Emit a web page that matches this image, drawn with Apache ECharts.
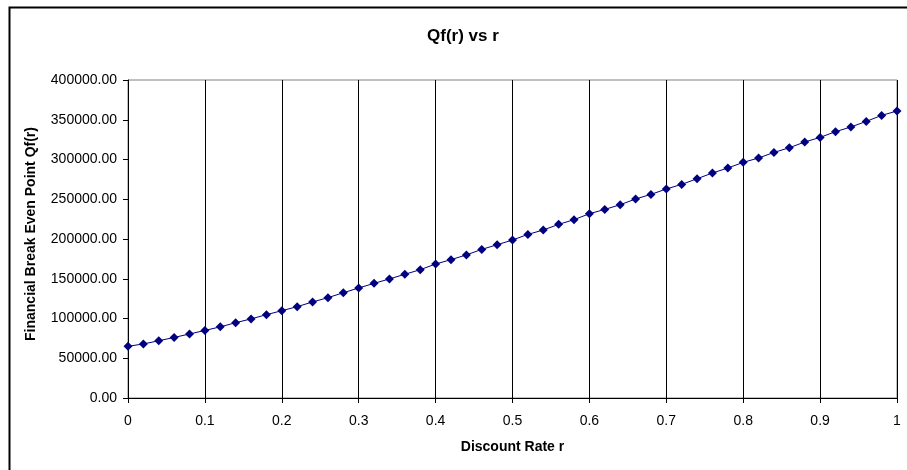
<!DOCTYPE html>
<html>
<head>
<meta charset="utf-8">
<script src="https://cdn.jsdelivr.net/npm/echarts@6/dist/echarts.min.js"></script>
<style>
html,body{margin:0;padding:0;background:#fff;}
#chart{width:907px;height:470px;}
</style>
</head>
<body>
<div id="chart"></div>
<script>
const titleText = 'Qf(r) vs r';
const xAxisName = 'Discount Rate r';
const yAxisName = 'Financial Break Even Point Qf(r)';
const rValues = [0,0.02,0.04,0.06,0.08,0.1,0.12,0.14,0.16,0.18,0.2,0.22,0.24,0.26,0.28,0.3,0.32,0.34,0.36,0.38,0.4,0.42,0.44,0.46,0.48,0.5,0.52,0.54,0.56,0.58,0.6,0.62,0.64,0.66,0.68,0.7,0.72,0.74,0.76,0.78,0.8,0.82,0.84,0.86,0.88,0.9,0.92,0.94,0.96,0.98,1];
const qfValues = [65000,68000,72000,76200,80500,85000,89500,94700,99500,104800,109800,114900,120800,126200,132400,138400,144200,149800,155600,161400,168500,174000,180000,186900,192800,198700,205800,211300,218400,224300,231800,237200,243100,250300,256100,262900,268700,275800,283000,289300,296400,301900,308900,314800,322000,327800,335000,340900,347900,355500,361000];
const xTicks = ['0','0.1','0.2','0.3','0.4','0.5','0.6','0.7','0.8','0.9','1'];

const chart = echarts.init(document.getElementById('chart'), null, {renderer:'canvas'});
const font = 'Arial, "Liberation Sans", sans-serif';
chart.setOption({
  animation:false,
  backgroundColor:'#fff',
  title:{text:titleText,left:422,top:23,itemGap:0,
    textStyle:{fontFamily:font,fontSize:17,fontWeight:'bold',color:'#000'}},
  graphic:[{type:'rect',left:7,top:5,shape:{width:1000,height:1000},
    style:{fill:'none',stroke:'#000',lineWidth:2},silent:true}],
  grid:{left:128,right:10,top:80,bottom:72,show:true,borderColor:'#808080',borderWidth:1,backgroundColor:'transparent'},
  xAxis:{type:'value',min:0,max:1,interval:0.1,
    name:xAxisName,nameLocation:'middle',nameGap:42,
    nameTextStyle:{fontFamily:font,fontSize:14,fontWeight:'bold',color:'#000'},
    axisLine:{lineStyle:{color:'#000',width:1}},
    axisTick:{show:true,length:5,lineStyle:{color:'#000'}},
    axisLabel:{fontFamily:font,fontSize:14,color:'#000',margin:16,
      formatter:function(v){const i=Math.round(v*10);return xTicks[i]!==undefined?xTicks[i]:'';}},
    splitLine:{show:true,lineStyle:{color:'#000',width:1}}},
  yAxis:{type:'value',min:0,max:400000,interval:50000,
    name:yAxisName,nameLocation:'middle',nameGap:90,
    nameTextStyle:{fontFamily:font,fontSize:14,fontWeight:'bold',color:'#000',padding:[0,0,0,10]},
    axisLine:{show:true,lineStyle:{color:'#000',width:1}},
    axisTick:{show:true,length:5,lineStyle:{color:'#000'}},
    axisLabel:{fontFamily:font,fontSize:14,color:'#000',margin:11,
      formatter:function(v){return v.toFixed(2);}},
    splitLine:{show:false}},
  series:[{type:'line',data:rValues.map((r,i)=>[r,qfValues[i]]),
    symbol:'diamond',symbolSize:9,showSymbol:true,
    lineStyle:{color:'#000080',width:1},
    itemStyle:{color:'#000080',borderWidth:0}}]
});
</script>
</body>
</html>
